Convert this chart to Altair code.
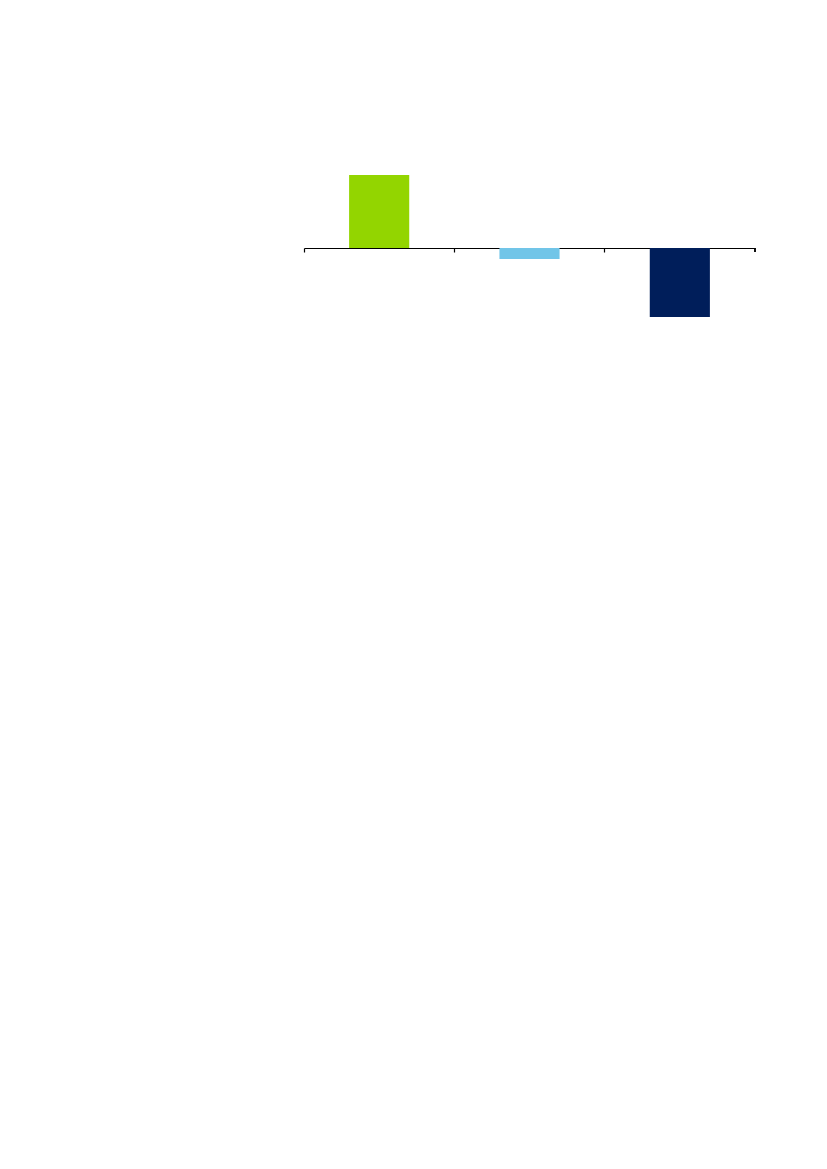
import altair as alt
import pandas as pd

categories = ["A", "B", "C"]
values = [7.3, -1.1, -6.9]
colors = ["#93D500", "#71C5E8", "#001E5A"]

df = pd.DataFrame({"category": categories, "value": values, "color": colors})

W, H = 451, 200

bars = alt.Chart(df).mark_bar(width=alt.RelativeBandSize(0.4)).encode(
    x=alt.X("category:N", sort=categories,
            scale=alt.Scale(paddingInner=0, paddingOuter=0),
            axis=alt.Axis(title=None, labels=False, bandPosition=0,
                          domainColor="black", domainWidth=1.2,
                          tickColor="black", tickWidth=1.2, tickSize=4,
                          offset=-H / 2, grid=False)),
    y=alt.Y("value:Q", scale=alt.Scale(domain=[-10, 10], nice=False), axis=None),
    color=alt.Color("color:N", scale=None),
)

end_tick = alt.Chart(df).mark_rule(color="black", strokeWidth=1.2).encode(
    x=alt.value(W), y=alt.value(H / 2), y2=alt.value(H / 2 + 4)
)

chart = alt.layer(bars, end_tick).properties(
    width=W, height=H,
    padding={"left": 296, "top": 140, "right": 10, "bottom": 10},
    autosize=alt.AutoSizeParams(type="none"),
).configure_view(stroke=None)

chart.save("out.html", embed_options={"renderer": "svg", "actions": False})
